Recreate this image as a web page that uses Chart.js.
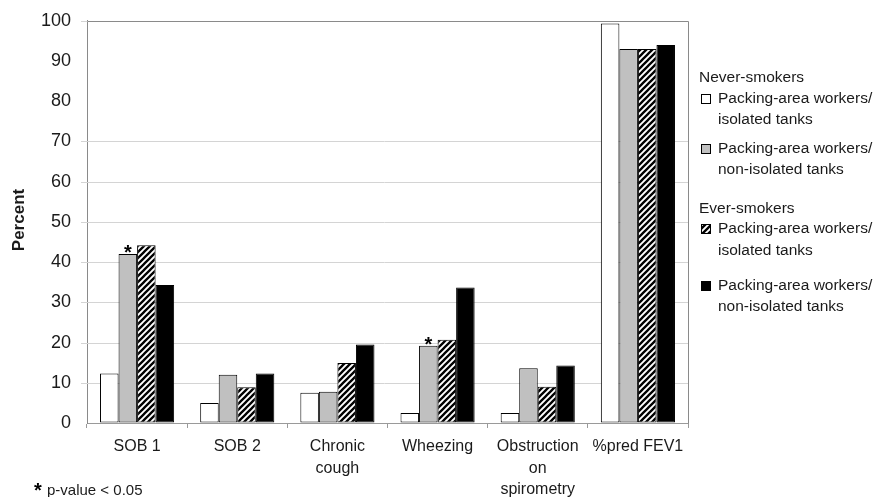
<!DOCTYPE html>
<html>
<head>
<meta charset="utf-8">
<script src="https://cdn.jsdelivr.net/npm/chart.js@4/dist/chart.umd.min.js"></script>
<style>
  body { margin: 0; background: #fff; }
  canvas { display: block; }
</style>
</head>
<body>
<canvas id="chart" width="877" height="497"></canvas>
<script>
// kategori & data
const categories = ["SOB 1", "SOB 2", ["Chronic", "cough"], "Wheezing", ["Obstruction", "on", "spirometry"], "%pred FEV1"];
const neverIsolated = [12.3, 5.0, 7.5, 2.5, 2.5, 99.3];
const neverNonIsolated = [42.0, 12.0, 7.8, 19.2, 13.6, 93.0];
const everIsolated = [44.2, 8.9, 14.9, 20.7, 9.0, 93.0];
const everNonIsolated = [34.3, 12.3, 19.5, 33.7, 14.3, 94.0];
const yTicks = [0, 10, 20, 30, 40, 50, 60, 70, 80, 90, 100];
// garis bantu yang tidak tampak di gambar asli
const hiddenGrid = [80, 90];
const seriesNames = [
    ["Packing-area workers/", "isolated tanks"],
    ["Packing-area workers/", "non-isolated tanks"],
    ["Packing-area workers/", "isolated tanks"],
    ["Packing-area workers/", "non-isolated tanks"]
];
const groupNames = ["Never-smokers", "Ever-smokers"];
// tanda bintang: [dataset, kategori]
const starMarks = [[1, 0], [1, 3]];

const FONT = "'Liberation Sans', Arial, sans-serif";
const TXT = "#1a1a1a";

// pola garis miring untuk seri ke-3
function makeHatch() {
    const c = document.createElement("canvas");
    c.width = 6; c.height = 6;
    const g = c.getContext("2d");
    g.fillStyle = "#fff";
    g.fillRect(0, 0, 6, 6);
    g.strokeStyle = "#000";
    g.lineWidth = 2.3;
    g.beginPath();
    g.moveTo(-1, 7); g.lineTo(7, -1);
    g.moveTo(-4, 4); g.lineTo(4, -4);
    g.moveTo(2, 10); g.lineTo(10, 2);
    g.stroke();
    return g.createPattern(c, "repeat");
}
const hatch = makeHatch();
const fills = ["#ffffff", "#c0c0c0", hatch, "#000000"];

// garis bantu sumbu y (digambar sendiri supaya 80 & 90 bisa dilewati)
const yGrid = {
    id: "yGrid",
    beforeDatasetsDraw(chart) {
        const ctx = chart.ctx;
        const a = chart.chartArea;
        const y = chart.scales.y;
        ctx.save();
        ctx.strokeStyle = "#d4d4d4";
        ctx.lineWidth = 1;
        ctx.beginPath();
        yTicks.forEach(v => {
            if (hiddenGrid.includes(v) || v === 0) return;
            const py = Math.round(y.getPixelForValue(v)) + 0.5;
            ctx.moveTo(a.left - 6, py);
            ctx.lineTo(a.right, py);
        });
        ctx.stroke();
        ctx.restore();
    }
};

// legend, catatan, bingkai, bintang
const extras = {
    id: "extras",
    afterDatasetsDraw(chart) {
        const ctx = chart.ctx;
        const a = chart.chartArea;
        ctx.save();
        ctx.strokeStyle = "#8a8a8a";
        ctx.lineWidth = 1;
        ctx.beginPath();
        ctx.moveTo(Math.round(a.left) + 0.5, Math.round(a.top) + 0.5);
        ctx.lineTo(Math.round(a.right) + 0.5, Math.round(a.top) + 0.5);
        ctx.lineTo(Math.round(a.right) + 0.5, Math.round(a.bottom) + 0.5);
        ctx.stroke();

        ctx.fillStyle = "#000";
        ctx.font = "bold 20px " + FONT;
        ctx.textAlign = "center";
        ctx.textBaseline = "alphabetic";
        starMarks.forEach(([d, i]) => {
            const bar = chart.getDatasetMeta(d).data[i];
            ctx.fillText("*", bar.x, bar.y + 5);
        });
        ctx.restore();
    },
    afterDraw(chart) {
        const ctx = chart.ctx;
        ctx.save();
        ctx.fillStyle = TXT;
        ctx.textBaseline = "middle";
        ctx.textAlign = "left";

        // judul sumbu y
        ctx.save();
        ctx.translate(19, 220);
        ctx.rotate(-Math.PI / 2);
        ctx.textAlign = "center";
        ctx.font = "bold 17px " + FONT;
        ctx.fillText("Percent", 0, 0);
        ctx.restore();

        // legend
        const rows = [
            { head: groupNames[0], y: 78 },
            { item: 0, y: 99, y2: 120 },
            { item: 1, y: 149, y2: 170 },
            { head: groupNames[1], y: 209 },
            { item: 2, y: 229, y2: 251 },
            { item: 3, y: 286, y2: 307 }
        ];
        ctx.font = "15.5px " + FONT;
        rows.forEach(r => {
            if (r.head) {
                ctx.fillStyle = TXT;
                ctx.fillText(r.head, 699, r.y);
                return;
            }
            ctx.fillStyle = fills[r.item];
            ctx.fillRect(701, r.y - 5, 10, 10);
            ctx.strokeStyle = "#000";
            ctx.lineWidth = 1;
            ctx.strokeRect(701.5, r.y - 4.5, 9, 9);
            ctx.fillStyle = TXT;
            ctx.fillText(seriesNames[r.item][0], 718, r.y);
            ctx.fillText(seriesNames[r.item][1], 718, r.y2);
        });

        // catatan p-value
        ctx.textBaseline = "alphabetic";
        ctx.fillStyle = "#000";
        ctx.font = "bold 20px " + FONT;
        ctx.fillText("*", 34, 497);
        ctx.fillStyle = TXT;
        ctx.font = "15px " + FONT;
        ctx.fillText("p-value < 0.05", 47, 495);
        ctx.restore();
    }
};

const ctx = document.getElementById("chart").getContext("2d");
const chart = new Chart(ctx, {
    type: "bar",
    data: {
        labels: categories,
        datasets: [neverIsolated, neverNonIsolated, everIsolated, everNonIsolated].map((vals, k) => ({
            label: seriesNames[k].join(" "),
            data: vals,
            backgroundColor: fills[k],
            borderColor: "#000",
            borderWidth: 1,
            borderSkipped: false,
            barPercentage: 1.0,
            categoryPercentage: 0.74
        }))
    },
    options: {
        responsive: false,
        animation: false,
        layout: { padding: { left: 0, right: 189, top: 19, bottom: 0 } },
        plugins: {
            legend: { display: false },
            tooltip: { enabled: false }
        },
        scales: {
            x: {
                afterFit: s => { s.height = 74; },
                grid: {
                    offset: true,
                    drawOnChartArea: false,
                    tickLength: 5,
                    color: "#9a9a9a"
                },
                border: { color: "#9a9a9a" },
                ticks: {
                    color: TXT,
                    font: { family: FONT, size: 18 - 2, lineHeight: 1.35 },
                    padding: 8,
                    maxRotation: 0,
                    autoSkip: false
                }
            },
            y: {
                min: 0,
                max: 100,
                afterFit: s => { s.width = 87; },
                afterBuildTicks: s => { s.ticks = yTicks.map(v => ({ value: v })); },
                grid: {
                    drawOnChartArea: false,
                    tickLength: 6,
                    color: "rgba(255,255,255,0)"
                },
                border: { color: "#8a8a8a" },
                ticks: {
                    color: TXT,
                    font: { family: FONT, size: 18 },
                    padding: 10
                }
            }
        }
    },
    plugins: [yGrid, extras]
});
</script>
</body>
</html>
